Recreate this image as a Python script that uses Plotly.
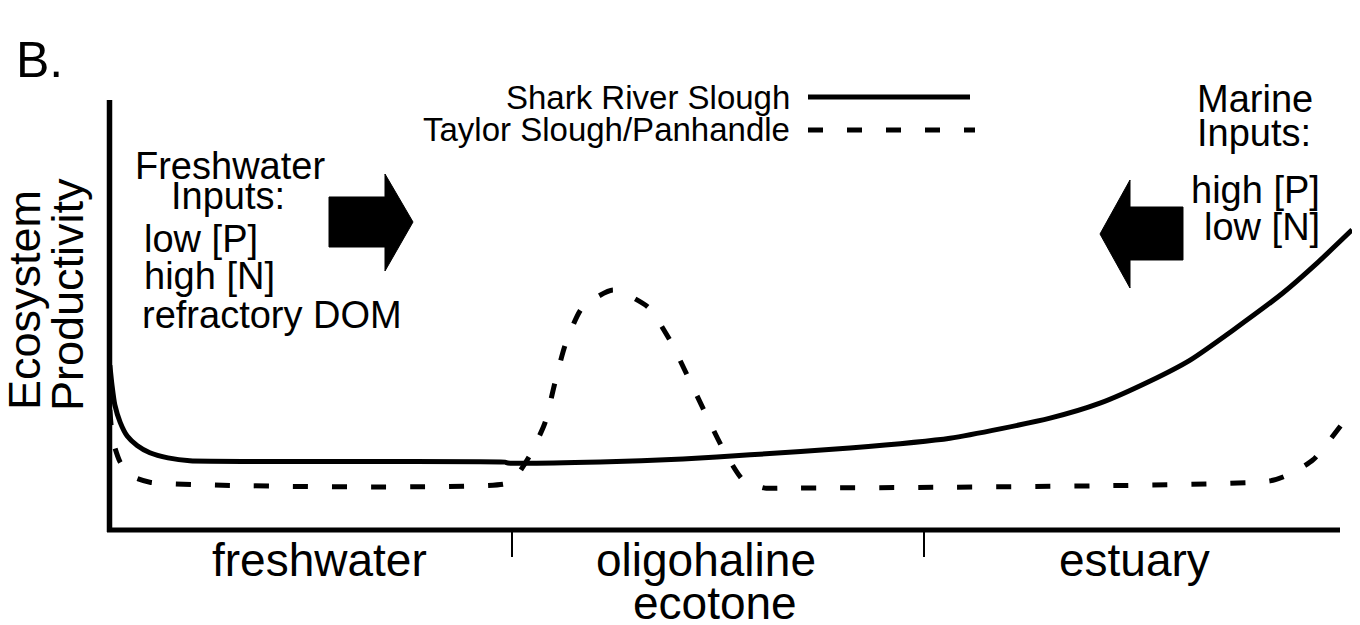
import plotly.graph_objects as go

# ---- data (position along the gradient: 0-1 freshwater, 1-2 oligohaline ecotone, 2-3 estuary) ----
shark_x = [0.024, 0.029, 0.036, 0.049, 0.066, 0.090, 0.121, 0.165, 0.218, 0.983, 0.990,
           1.214, 1.415, 1.578, 1.820, 2.063, 2.306, 2.427, 2.549, 2.646, 2.750, 2.871, 2.954, 3.039]
shark_y = [0.386, 0.340, 0.293, 0.252, 0.220, 0.198, 0.181, 0.169, 0.162, 0.159, 0.157,
           0.159, 0.166, 0.176, 0.192, 0.215, 0.262, 0.297, 0.349, 0.398, 0.468, 0.555, 0.625, 0.703]

taylor_x = [0.024, 0.031, 0.049, 0.078, 0.121, 0.983, 1.007, 1.044, 1.080, 1.104, 1.129, 1.170,
            1.245, 1.330, 1.383, 1.425, 1.468, 1.510, 1.561, 1.614, 1.646, 2.840, 2.888, 2.944, 3.017]
taylor_y = [0.281, 0.211, 0.159, 0.126, 0.112, 0.108, 0.122, 0.176, 0.251, 0.344, 0.433, 0.520,
            0.562, 0.522, 0.445, 0.363, 0.276, 0.194, 0.117, 0.098, 0.098, 0.115, 0.131, 0.164, 0.251]

series_names = ["Shark River Slough", "Taylor Slough/Panhandle"]
zone_labels = [["freshwater"], ["oligohaline", "ecotone"], ["estuary"]]
zone_centers = [[0.533], [1.471, 1.493], [2.51]]
zone_boundaries = [1, 2]
freshwater_text = ["Freshwater", "Inputs:", "low [P]", "high [N]", "refractory DOM"]
marine_text = ["Marine", "Inputs:", "high [P]", "low [N]"]
y_title = ["Ecosystem", "Productivity"]
panel_label = "B."

# ---- layout geometry (page pixels; the page body has an 8px default margin) ----
OFF = 8
W, H = 1360 - OFF, 625 - OFF
PLOT_L, PLOT_R, PLOT_T, PLOT_B = 110, 1354, 103, 530   # page coordinates of plot area
L, R, T, B = PLOT_L - OFF, 1360 - PLOT_R, PLOT_T - OFF, 625 - PLOT_B
PW, PH = PLOT_R - PLOT_L, PLOT_B - PLOT_T
FONT = "Liberation Sans, Arial, Helvetica, sans-serif"
DASH = "15px,24px"
UNIT = 412          # pixels per gradient zone
ZERO = 100          # page x of gradient position 0


def px(xp):
    return (xp - PLOT_L) / PW


def py(yp):
    return (PLOT_B - yp) / PH


fig = go.Figure()
fig.add_trace(go.Scatter(x=shark_x, y=shark_y, mode="lines", name=series_names[0],
                         line=dict(color="black", width=5, shape="spline", smoothing=0.6),
                         cliponaxis=False))
fig.add_trace(go.Scatter(x=taylor_x, y=taylor_y, mode="lines", name=series_names[1],
                         line=dict(color="black", width=5, dash=DASH, shape="spline", smoothing=0.6),
                         cliponaxis=False))

shapes = []
# axes lines
shapes.append(dict(type="line", xref="paper", yref="paper", x0=px(109.5), x1=px(109.5),
                   y0=py(532), y1=py(100), line=dict(color="black", width=5.5)))
shapes.append(dict(type="line", xref="paper", yref="paper", x0=px(107), x1=px(1340),
                   y0=py(530), y1=py(530), line=dict(color="black", width=5)))
# legend samples
shapes.append(dict(type="line", xref="paper", yref="paper", x0=px(808), x1=px(970),
                   y0=py(97), y1=py(97), line=dict(color="black", width=5)))
shapes.append(dict(type="line", xref="paper", yref="paper", x0=px(808), x1=px(975),
                   y0=py(130), y1=py(130), line=dict(color="black", width=5, dash=DASH)))


def poly(points):
    d = "M " + " L ".join(f"{px(a):.5f},{py(b):.5f}" for a, b in points) + " Z"
    return dict(type="path", xref="paper", yref="paper", path=d,
                fillcolor="black", line=dict(color="black", width=1))


shapes.append(poly([(329, 197), (385, 197), (385, 174), (413, 222), (385, 271), (385, 247), (329, 247)]))
shapes.append(poly([(1183, 207), (1130, 207), (1130, 180), (1100, 234), (1130, 288), (1130, 260), (1183, 260)]))

ann = []


def text(t, x, y, size, xanchor="center", angle=0):
    ann.append(dict(text=t, xref="paper", yref="paper", x=px(x), y=py(y), showarrow=False,
                    xanchor=xanchor, yanchor="middle", textangle=angle,
                    font=dict(family=FONT, size=size, color="black")))


text(panel_label, 14, 60, 50, "left")
text(y_title[0], 24, 300, 45, angle=-90)
text(y_title[1], 67, 295, 45, angle=-90)

text(freshwater_text[0], 230, 166, 38)
text(freshwater_text[1], 228, 196, 38)
text(freshwater_text[2], 142, 239, 38, "left")
text(freshwater_text[3], 142, 276, 38, "left")
text(freshwater_text[4], 140, 315, 38, "left")

text(marine_text[0], 1255, 99, 38)
text(marine_text[1], 1254, 133, 38)
text(marine_text[2], 1322, 190, 38, "right")
text(marine_text[3], 1322, 227, 38, "right")

text(series_names[0], 792, 97, 33, "right")
text(series_names[1], 792, 130, 33, "right")

# zone labels along x axis (data coordinates for x)
for lines, centers in zip(zone_labels, zone_centers):
    for i, (p, xc) in enumerate(zip(lines, centers)):
        ann.append(dict(text=p, xref="x", yref="paper", x=xc, y=py(560 + 43 * i), showarrow=False,
                        xanchor="center", yanchor="middle",
                        font=dict(family=FONT, size=46, color="black")))

fig.update_layout(
    width=W, height=H,
    margin=dict(l=L, r=R, t=T, b=B),
    paper_bgcolor="white", plot_bgcolor="white",
    showlegend=False,
    shapes=shapes, annotations=ann,
    xaxis=dict(range=[(PLOT_L - ZERO) / UNIT, (PLOT_R - ZERO) / UNIT], showgrid=False, zeroline=False,
               showline=False, tickvals=zone_boundaries, ticks="outside", ticklen=26,
               tickwidth=2, tickcolor="black", showticklabels=False),
    yaxis=dict(range=[0, 1], showgrid=False, zeroline=False, showline=False,
               showticklabels=False, ticks=""),
)

fig.write_html("out.html")
